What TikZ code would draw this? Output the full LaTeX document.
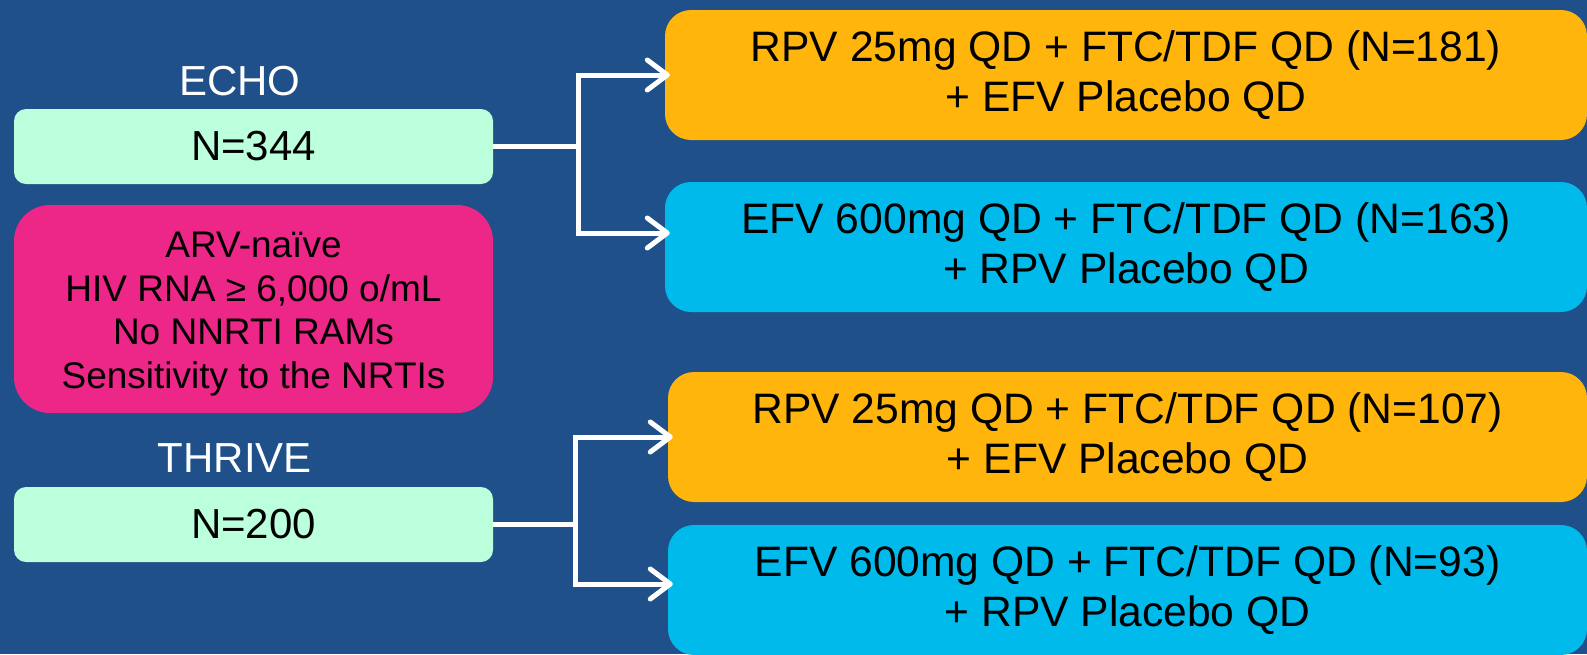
\documentclass[tikz,border=0pt]{standalone}
\usepackage{fontspec}
\setmainfont{Liberation Sans}
\usetikzlibrary{arrows.meta}
\definecolor{bg}{RGB}{31,80,137}
\definecolor{mint}{RGB}{187,255,220}
\definecolor{pinkbox}{RGB}{236,39,135}
\definecolor{orangebox}{RGB}{255,181,12}
\definecolor{cyanbox}{RGB}{0,186,236}
\begin{document}
\begin{tikzpicture}[x=1pt,y=-1pt,
  box/.style={rectangle, inner sep=0pt, text=black, align=center},
  cohort/.style={box, fill=mint, rounded corners=12pt, minimum width=479pt, minimum height=75pt, font=\fontsize{42}{49}\selectfont},
  criteria/.style={box, fill=pinkbox, rounded corners=36pt, minimum width=479pt, minimum height=208pt},
  criteriatext/.style={box, font=\fontsize{37}{43.7}\selectfont},
  arm/.style={box, rounded corners=26pt, minimum height=130pt, font=\fontsize{42.6}{50.6}\selectfont},
  studylabel/.style={inner sep=0pt, text=white, font=\fontsize{42}{49}\selectfont},
  link/.style={draw=white, line width=5pt, line join=miter},
  arrowlink/.style={link, shorten >=-5pt, -{Straight Barb[length=20pt,width=30pt,line cap=round,line join=round]}}
]
\useasboundingbox[fill=bg] (0,0) rectangle (1587,654);

\node[studylabel] (echo) at (240,81) {ECHO};
\node[cohort] (g1) at (253.5,146.5) {N=344};
\node[criteria] (crit) at (253.5,309) {};
\node[criteriatext] (crittext) at ([yshift=-5pt]crit.center) {ARV-naïve\\HIV RNA ≥ 6,000 o/mL\\No NNRTI RAMs\\Sensitivity to the NRTIs};
\node[studylabel] (thrive) at (235,458) {THRIVE};
\node[cohort] (g2) at (253.5,524.5) {N=200};

\node[arm, fill=orangebox, minimum width=922pt] (o1) at (1126,75) {RPV 25mg QD + FTC/TDF QD (N=181)\\+ EFV Placebo QD};
\node[arm, fill=cyanbox, minimum width=922pt] (c1) at (1126,247) {EFV 600mg QD + FTC/TDF QD (N=163)\\+ RPV Placebo QD};
\node[arm, fill=orangebox, minimum width=919pt] (o2) at (1127.5,437) {RPV 25mg QD + FTC/TDF QD (N=107)\\+ EFV Placebo QD};
\node[arm, fill=cyanbox, minimum width=919pt] (c2) at (1127.5,590) {EFV 600mg QD + FTC/TDF QD (N=93)\\+ RPV Placebo QD};

\coordinate (j1) at (578,146.5);
\draw[link] (g1.east) -- (j1);
\draw[arrowlink] (j1) |- (o1.west);
\draw[arrowlink] (j1) |- ([yshift=14pt]c1.west);

\coordinate (j2) at (575,524.5);
\draw[link] (g2.east) -- (j2);
\draw[arrowlink] (j2) |- (o2.west);
\draw[arrowlink] (j2) |- ([yshift=6pt]c2.west);
\end{tikzpicture}
\end{document}
